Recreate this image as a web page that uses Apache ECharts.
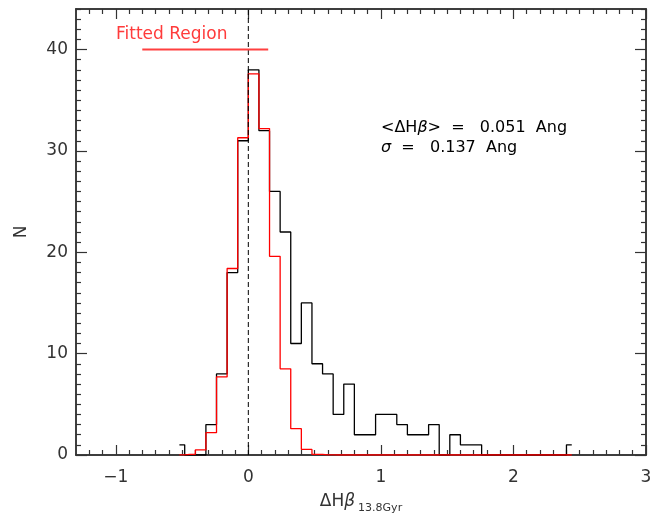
<!DOCTYPE html>
<html>
<head>
<meta charset="utf-8">
<script src="https://cdn.jsdelivr.net/npm/echarts@6/dist/echarts.min.js"></script>
<style>
html, body { margin: 0; padding: 0; background: #fff; }
#chart { width: 665px; height: 519px; }
</style>
</head>
<body>
<div id="chart"></div>
<script>
// histogram bin centres, dHbeta (Ang)
const binCenters = [-0.52, -0.44, -0.36, -0.28, -0.20, -0.12, -0.04, 0.04, 0.12, 0.20,
  0.28, 0.36, 0.44, 0.52, 0.60, 0.68, 0.76, 0.84, 0.92, 1.00,
  1.08, 1.16, 1.24, 1.32, 1.40, 1.48, 1.56, 1.64, 1.72, 1.80,
  1.88, 1.96, 2.04, 2.12, 2.20, 2.28, 2.36, 2.44];
// all galaxies (black)
const countsAll = [1, 0, 0, 3, 8, 18, 31, 38, 32, 26,
  22, 11, 15, 9, 8, 4, 7, 2, 2, 4,
  4, 3, 2, 2, 3, 0, 2, 1, 1, 0,
  0, 0, 0, 0, 0, 0, 0, 1];
// fit in the fitted region (red)
const countsFit = [0.01, 0.07, 0.5, 2.2, 7.7, 18.4, 31.3, 37.6, 32.2, 19.6,
  8.5, 2.6, 0.55, 0.07, 0.01, 0, 0, 0, 0, 0,
  0, 0, 0, 0, 0, 0, 0, 0, 0, 0,
  0, 0, 0, 0, 0, 0, 0, 0];
const xMajorTicks = [-1, 0, 1, 2, 3];
const yMajorTicks = [0, 10, 20, 30, 40];
const fittedRegion = [[-0.8, 40], [0.15, 40]];
const zeroLine = [[0, 0], [0, 44]];

const xMinorTicks = [];
for (let i = -12; i <= 30; i++) if (i % 10 !== 0) xMinorTicks.push(i / 10);
const yMinorTicks = [];
for (let i = 1; i <= 44; i++) if (i % 10 !== 0) yMinorTicks.push(i);

const FONT = 'DejaVu Sans';
const INK = '#333';

function tickAxis(position, range, values, len, extra) {
  return Object.assign({
    type: 'value',
    position: position,
    min: range[0],
    max: range[1],
    axisLine: { show: true, onZero: false, lineStyle: { color: INK, width: 1.5 } },
    axisTick: { show: true, inside: true, length: len, customValues: values,
      lineStyle: { color: INK, width: 1.2 } },
    axisLabel: { show: false },
    splitLine: { show: false }
  }, extra || {});
}

const xr = [-1.3, 3];
const yr = [0, 44];

const myChart = echarts.init(document.getElementById('chart'));
const option = {
  animation: false,
  grid: { left: 76, top: 9, width: 570, height: 450 },
  xAxis: [
    tickAxis('bottom', xr, xMajorTicks, 10, {
      axisLabel: {
        show: true, customValues: xMajorTicks, margin: 14,
        fontFamily: FONT, fontSize: 17, color: INK,
        formatter: v => (v < 0 ? '\u2212' + Math.abs(v) : String(v))
      },
      name: '{m|\u0394H}{b|\u03b2}{s|13.8Gyr}',
      nameLocation: 'middle',
      nameGap: 35,
      nameTextStyle: {
        rich: {
          m: { fontFamily: FONT, fontSize: 17, color: INK, lineHeight: 24, verticalAlign: 'middle' },
          b: { fontFamily: FONT, fontSize: 17, color: INK, fontStyle: 'italic', lineHeight: 24, verticalAlign: 'middle' },
          s: { fontFamily: FONT, fontSize: 11, color: INK, lineHeight: 24, verticalAlign: 'bottom', padding: [0, 0, 0, 3] }
        }
      }
    }),
    tickAxis('bottom', xr, xMinorTicks, 5),
    tickAxis('top', xr, xMajorTicks, 10),
    tickAxis('top', xr, xMinorTicks, 5)
  ],
  yAxis: [
    tickAxis('left', yr, yMajorTicks, 11, {
      axisLabel: {
        show: true, customValues: yMajorTicks, margin: 8,
        fontFamily: FONT, fontSize: 17, color: INK
      },
      name: 'N',
      nameLocation: 'middle',
      nameGap: 46,
      nameTextStyle: { fontFamily: FONT, fontSize: 17, color: INK }
    }),
    tickAxis('left', yr, yMinorTicks, 5),
    tickAxis('right', yr, yMajorTicks, 11),
    tickAxis('right', yr, yMinorTicks, 5)
  ],
  series: [
    {
      name: 'all',
      type: 'line',
      step: 'middle',
      symbol: 'none',
      data: binCenters.map((x, i) => [x, countsAll[i]]),
      lineStyle: { color: '#000', width: 1.3 },
      z: 3
    },
    {
      name: 'fit',
      type: 'line',
      step: 'middle',
      symbol: 'none',
      data: binCenters.map((x, i) => [x, countsFit[i]]),
      lineStyle: { color: '#ff0000', width: 1.3 },
      z: 4
    },
    {
      name: 'zero',
      type: 'line',
      symbol: 'none',
      data: zeroLine,
      lineStyle: { color: '#000', width: 1, type: [5, 3] },
      z: 5
    },
    {
      name: 'fitted region',
      type: 'line',
      symbol: 'none',
      data: fittedRegion,
      lineStyle: { color: '#ff4040', width: 2 },
      z: 5
    }
  ],
  graphic: [
    {
      type: 'text', left: 116, top: 26,
      style: { text: 'Fitted Region', fill: '#ff3b3b', font: '17px "DejaVu Sans"' }
    },
    {
      type: 'text', left: 381, top: 120,
      style: {
        text: '<\u0394H{b|\u03b2}>  =   0.051  Ang',
        fill: '#000', font: '16px "DejaVu Sans"',
        rich: { b: { fontStyle: 'italic', fontFamily: FONT, fontSize: 16, fill: '#000' } }
      }
    },
    {
      type: 'text', left: 381, top: 140,
      style: {
        text: '{b|\u03c3}  =   0.137  Ang',
        fill: '#000', font: '16px "DejaVu Sans"',
        rich: { b: { fontStyle: 'italic', fontFamily: FONT, fontSize: 16, fill: '#000' } }
      }
    }
  ]
};
myChart.setOption(option);
</script>
</body>
</html>
